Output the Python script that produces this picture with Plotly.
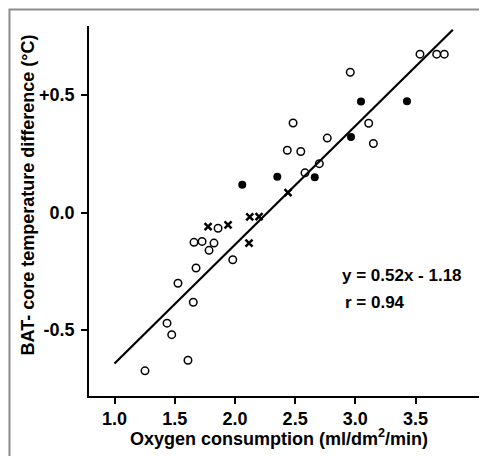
import plotly.graph_objects as go

# Open circles
open_x = [2.483, 2.435, 2.958, 3.537, 3.676, 3.739, 3.111, 2.767, 3.150, 2.547, 2.701, 2.582,
          1.860, 1.660, 1.727, 1.826, 1.785, 1.982, 1.677, 1.527, 1.654, 1.436, 1.475, 1.610, 1.253]
open_y = [0.381, 0.265, 0.597, 0.674, 0.674, 0.674, 0.380, 0.317, 0.294, 0.260, 0.208, 0.169,
          -0.067, -0.127, -0.123, -0.130, -0.161, -0.201, -0.236, -0.301, -0.382, -0.471, -0.520, -0.629, -0.674]

# Filled circles
filled_x = [2.352, 2.061, 3.047, 3.429, 2.964, 2.663]
filled_y = [0.152, 0.118, 0.473, 0.474, 0.321, 0.150]

# Crosses
cross_x = [2.441, 1.777, 1.943, 2.123, 2.200, 2.117]
cross_y = [0.085, -0.060, -0.053, -0.019, -0.017, -0.130]

# Regression line (drawn extent)
line_x = [1.0, 3.81]
line_y = [-0.643, 0.778]

x_ticks = [1.0, 1.5, 2.0, 2.5, 3.0, 3.5]
x_tick_labels = ["1.0", "1.5", "2.0", "2.5", "3.0", "3.5"]
y_ticks = [-0.5, 0.0, 0.5]
y_tick_labels = ["-0.5", "0.0", "+0.5"]

x_title = "Oxygen consumption (ml/dm<sup>2</sup>/min)"
y_title = "BAT- core temperature difference (°C)"

FONT = "Liberation Sans, Arial, sans-serif"

fig = go.Figure()
fig.add_trace(go.Scatter(x=line_x, y=line_y, mode="lines",
                         line=dict(color="black", width=2.2), hoverinfo="skip"))
fig.add_trace(go.Scatter(x=open_x, y=open_y, mode="markers",
                         marker=dict(symbol="circle-open", size=7.5, color="black",
                                     line=dict(width=1.5, color="black"))))
fig.add_trace(go.Scatter(x=filled_x, y=filled_y, mode="markers",
                         marker=dict(symbol="circle", size=8, color="black")))
fig.add_trace(go.Scatter(x=cross_x, y=cross_y, mode="markers",
                         marker=dict(symbol="x-thin-open", size=7, color="black",
                                     line=dict(width=2.5, color="black"))))

fig.add_annotation(x=2.87, y=-0.27, xref="x", yref="y", text="<b>y = 0.52x - 1.18</b>",
                   showarrow=False, xanchor="left", yanchor="middle",
                   font=dict(family=FONT, size=17, color="black"))
fig.add_annotation(x=2.897, y=-0.385, xref="x", yref="y", text="<b>r = 0.94</b>",
                   showarrow=False, xanchor="left", yanchor="middle",
                   font=dict(family=FONT, size=17, color="black"))

# Axis titles
fig.add_annotation(x=0.481, y=-0.112, xref="paper", yref="paper", text="<b>%s</b>" % x_title,
                   showarrow=False, xanchor="center", yanchor="middle",
                   font=dict(family=FONT, size=18, color="black"))
fig.add_annotation(x=-0.154, y=0.542, xref="paper", yref="paper", text="<b>%s</b>" % y_title,
                   showarrow=False, xanchor="center", yanchor="middle", textangle=-90,
                   font=dict(family=FONT, size=18, color="black"))

fig.add_shape(type="rect", xref="paper", yref="paper",
              x0=-0.2008, x1=1.0152, y0=-0.175, y1=1.0446,
              line=dict(color="#8c8c8c", width=2), fillcolor="rgba(0,0,0,0)", layer="below")

fig.update_layout(
    width=487, height=456,
    margin=dict(l=81, r=10, t=18, b=68),
    paper_bgcolor="white", plot_bgcolor="white",
    showlegend=False,
    font=dict(family=FONT, size=18, color="black"),
    xaxis=dict(range=[0.788, 4.077], tickvals=x_ticks, ticktext=["<b>%s</b>" % t for t in x_tick_labels],
               showgrid=False, zeroline=False, showline=True, linecolor="black", linewidth=1.5,
               ticks="outside", ticklen=6, tickwidth=1.5, tickcolor="black",
               tickfont=dict(family=FONT, size=18), automargin=False),
    yaxis=dict(range=[-0.781, 0.794], tickvals=y_ticks, ticktext=["<b>%s</b>" % t for t in y_tick_labels],
               showgrid=False, zeroline=False, showline=True, linecolor="black", linewidth=1.5,
               ticks="outside", ticklen=6, tickwidth=1.5, tickcolor="black",
               tickfont=dict(family=FONT, size=18), ticklabelstandoff=3, automargin=False),
)

fig.write_html("out.html")
